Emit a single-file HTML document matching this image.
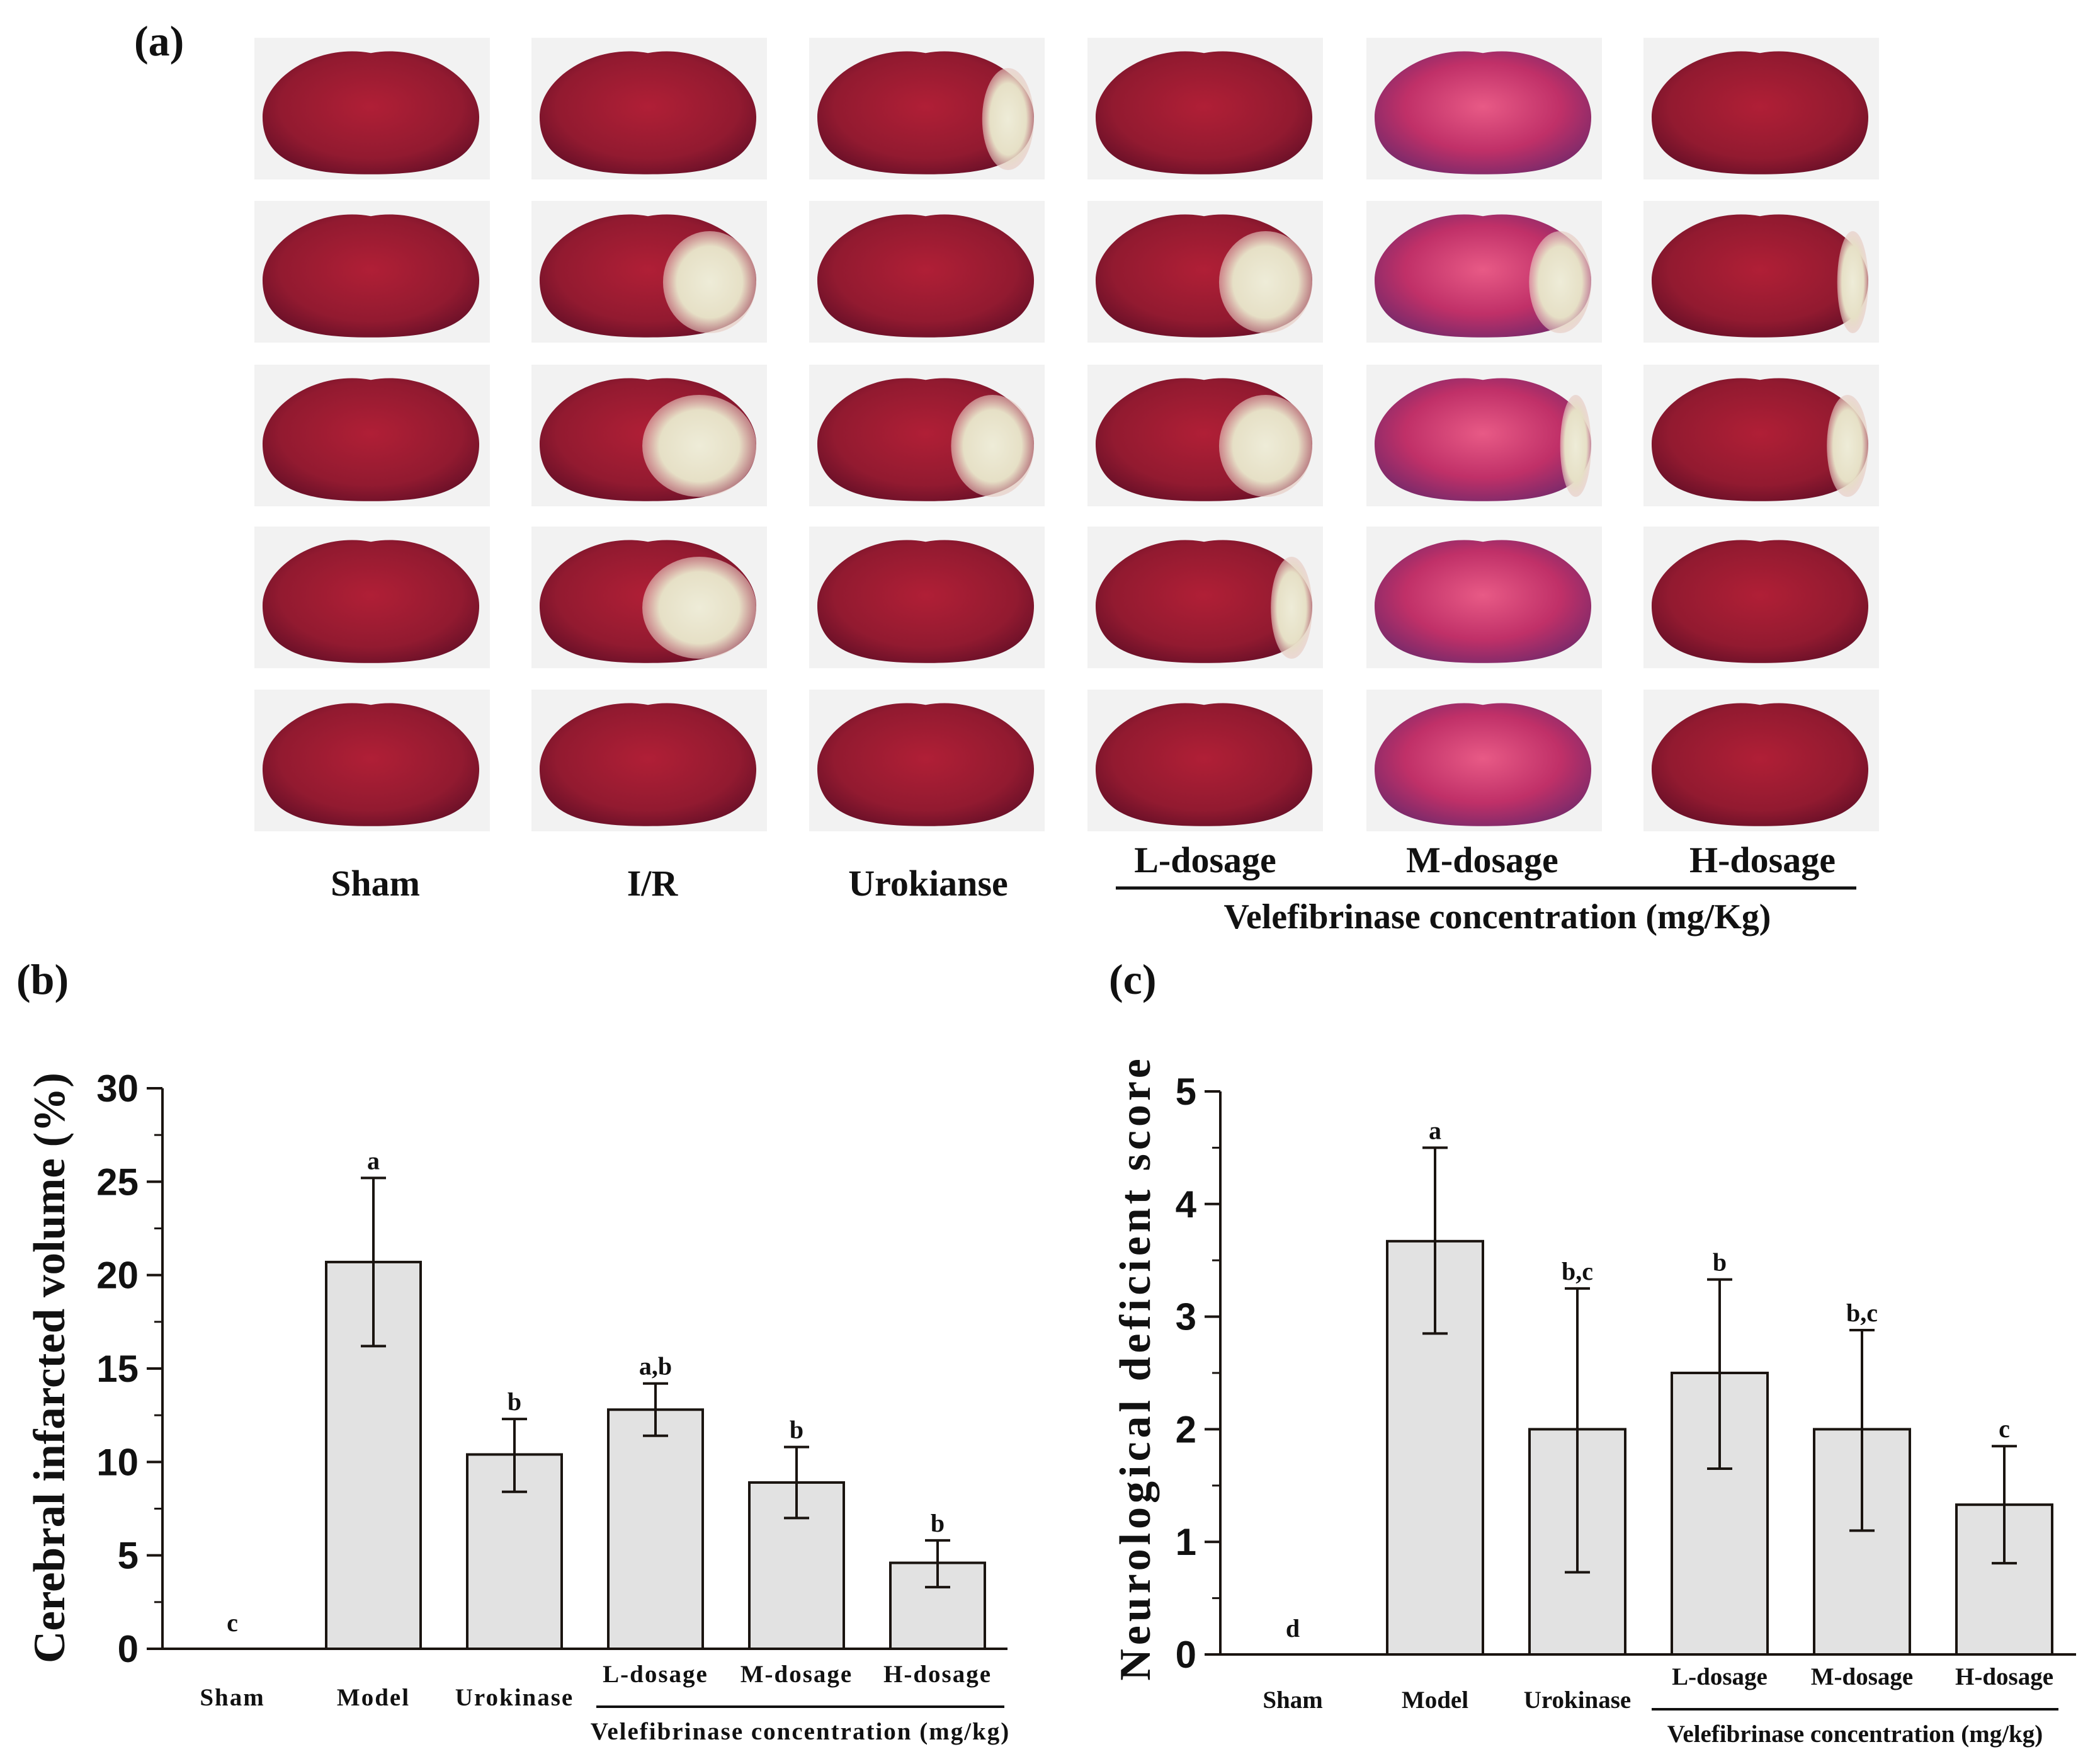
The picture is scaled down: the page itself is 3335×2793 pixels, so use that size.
<!DOCTYPE html>
<html><head><meta charset="utf-8"><style>
html,body{margin:0;padding:0;background:#fff;}
svg{display:block;}
text{font-family:"Liberation Serif",serif;font-weight:bold;fill:#111;}
.tick{font-family:"Liberation Sans",sans-serif;font-weight:bold;}
</style></head><body>
<svg id="fig" width="3335" height="2793" viewBox="0 0 3335 2793" xmlns="http://www.w3.org/2000/svg">
<defs>
<radialGradient id="gRed" cx="50%" cy="45%" r="60%"><stop offset="0" stop-color="#b01f36"/><stop offset="0.7" stop-color="#921a30"/><stop offset="1" stop-color="#6a1028"/></radialGradient>
<radialGradient id="gPink" cx="50%" cy="45%" r="60%"><stop offset="0" stop-color="#e85a86"/><stop offset="0.6" stop-color="#c03068"/><stop offset="1" stop-color="#7a2a6a"/></radialGradient>
<radialGradient id="gPale" cx="50%" cy="50%" r="50%"><stop offset="0" stop-color="#eeecd8"/><stop offset="0.7" stop-color="#e6e0c6"/><stop offset="1" stop-color="#e6c8c0" stop-opacity="0.6"/></radialGradient>
</defs>
<g id="panelA"></g>
<text x="213" y="88" font-size="68">(a)</text>
<g id="panelB"></g>
<g id="panelC"></g>
</svg>
<script>
const NS='http://www.w3.org/2000/svg';
function mk(parent,tag,attrs,txt){const e=document.createElementNS(NS,tag);for(const k in attrs)e.setAttribute(k,attrs[k]);if(txt!==undefined)e.textContent=txt;parent.appendChild(e);return e;}

// ---------- Panel A: brain photos ----------
const colLefts=[404,844,1285,1727,2170,2610];
const rowTops=[60,319,579,836,1095];
const infarct=[[0,0,0.25,0,0,0],[0,0.45,0,0.45,0.3,0.15],[0,0.55,0.4,0.45,0.15,0.2],[0,0.55,0,0.2,0,0],[0,0,0,0,0,0]];
const A=document.getElementById('panelA');
for(let r=0;r<rowTops.length;r++){for(let c=0;c<colLefts.length;c++){
  const x=colLefts[c],y=rowTops[r],w=374,h=225;
  const g=mk(A,'g',{});
  
  
  mk(g,'rect',{x:x,y:y,width:w,height:h,fill:'#f2f2f2'});
  const fill=c===4?'url(#gPink)':'url(#gRed)';
  const cx=x+w/2-2,cy=y+h/2+3,rx=w*0.46,ry=h*0.45;
  mk(g,'path',{d:`M${cx} ${cy-ry+10} C${cx-rx*0.5} ${cy-ry-6} ${cx-rx} ${cy-ry*0.5} ${cx-rx} ${cy+ry*0.1} C${cx-rx} ${cy+ry*0.9} ${cx-rx*0.5} ${cy+ry} ${cx} ${cy+ry} C${cx+rx*0.5} ${cy+ry} ${cx+rx} ${cy+ry*0.9} ${cx+rx} ${cy+ry*0.1} C${cx+rx} ${cy-ry*0.5} ${cx+rx*0.5} ${cy-ry-6} ${cx} ${cy-ry+10}Z`,fill:fill});
  const f=infarct[r][c];
  if(f>0){mk(g,'ellipse',{cx:cx+rx-w*f*0.44,cy:cy+h*0.06,rx:w*f*0.44,ry:h*0.36,fill:'url(#gPale)'});}
}}
const aLabels=[['Sham',596,1422],['I/R',1036,1422],['Urokianse',1474,1422],['L-dosage',1914,1385],['M-dosage',2354,1385],['H-dosage',2799,1385]];
aLabels.forEach(l=>{const t=mk(document.getElementById('fig'),'text',{x:l[1],y:l[2],'font-size':58,'text-anchor':'middle'},l[0]);});
{const fig=document.getElementById('fig');
const ln=mk(fig,'line',{x1:1772,y1:1410,x2:2948,y2:1410,stroke:'#111','stroke-width':5});
const t=mk(fig,'text',{x:2378,y:1474,'font-size':56,'text-anchor':'middle'},'Velefibrinase concentration (mg/Kg)');}

// ---------- Panel B data ----------
const catsB=['Sham','Model','Urokinase','L-dosage','M-dosage','H-dosage'];
const valsB=[0,20.7,10.4,12.8,8.9,4.6];
const errHiB=[0,25.2,12.3,14.2,10.8,5.8];
const errLoB=[0,16.2,8.4,11.4,7.0,3.3];
const sigB=['c','a','b','a,b','b','b'];
const ticksB=[0,5,10,15,20,25,30];
// ---------- Panel C data ----------
const catsC=['Sham','Model','Urokinase','L-dosage','M-dosage','H-dosage'];
const valsC=[0,3.67,2.0,2.5,2.0,1.33];
const errHiC=[0,4.5,3.25,3.33,2.88,1.85];
const errLoC=[0,2.85,0.73,1.65,1.1,0.81];
const sigC=['d','a','b,c','b','b,c','c'];
const ticksC=[0,1,2,3,4,5];

function chart(o){
  const G=document.getElementById(o.id);
  const y=v=>o.y0-(v-o.min)/(o.max-o.min)*(o.y0-o.y1);
  const x=i=>o.c0+i*o.step;
  let t=mk(G,'text',{x:o.plx,y:1578,'font-size':68},o.pl);
  
  o.vals.forEach((v,i)=>{
    if(v>0){const b=mk(G,'rect',{x:x(i)-o.bw/2,y:y(v),width:o.bw,height:y(0)-y(v),fill:'#e2e2e2',stroke:'#1a1410','stroke-width':4});
    
    const e=mk(G,'path',{d:`M${x(i)} ${y(o.hi[i])}V${y(o.lo[i])}M${x(i)-20} ${y(o.hi[i])}h40M${x(i)-20} ${y(o.lo[i])}h40`,stroke:'#1a1410','stroke-width':4,fill:'none'});
    }
    const top=v>0?y(o.hi[i])-14:y(0)-28;
    const s=mk(G,'text',{x:x(i),y:top,'font-size':40,'text-anchor':'middle'},o.sig[i]);
    
  });
  const ax=mk(G,'path',{d:`M${o.ax} ${o.y1}V${y(0)}H${o.axEnd}`,stroke:'#1a1410','stroke-width':4,fill:'none'});
  
  o.ticks.forEach((v,k)=>{
    mk(G,'line',{x1:o.ax-25,y1:y(v),x2:o.ax,y2:y(v),stroke:'#1a1410','stroke-width':4});
    if(k<o.ticks.length-1){const m=(v+o.ticks[k+1])/2;mk(G,'line',{x1:o.ax-13,y1:y(m),x2:o.ax,y2:y(m),stroke:'#1a1410','stroke-width':3});}
    const tl=mk(G,'text',{x:o.ax-38,y:y(v)+21,'font-size':60,'text-anchor':'end',class:'tick'},String(v));
    
  });
  o.cats.forEach((c,i)=>{
    const low=i<3;
    const l=mk(G,'text',{x:x(i),y:low?o.xly:o.xly-37,'font-size':39,'text-anchor':'middle','letter-spacing':o.ls},c);
    
  });
  const bl=mk(G,'line',{x1:o.brx1,y1:o.xly+2,x2:o.brx2,y2:o.xly+2,stroke:'#111','stroke-width':4});
  
  const vt=mk(G,'text',{x:(o.brx1+o.brx2)/2,y:o.xly+54,'font-size':39,'text-anchor':'middle','letter-spacing':o.ls},'Velefibrinase concentration (mg/kg)');
  
  const yt=mk(G,'text',{x:0,y:0,'font-size':o.ytf,'text-anchor':'middle','letter-spacing':o.ytls,transform:`translate(${o.ytx},2172) rotate(-90)`},o.ytitle);
  
}
chart({id:'panelB',pl:'(b)',plx:26,cats:catsB,vals:valsB,hi:errHiB,lo:errLoB,sig:sigB,ticks:ticksB,min:0,max:30,
  y0:2618,y1:1728,c0:369,step:224,bw:150,ax:258,axEnd:1600,xly:2708,brx1:947,brx2:1595,ls:2,ytx:102,ytf:71,ytls:0,ytitle:'Cerebral infarcted volume (%)'});
chart({id:'panelC',pl:'(c)',plx:1761,cats:catsC,vals:valsC,hi:errHiC,lo:errLoC,sig:sigC,ticks:ticksC,min:0,max:5,
  y0:2627,y1:1733,c0:2053,step:226,bw:152,ax:1938,axEnd:3297,xly:2712,brx1:2623,brx2:3269,ls:0,ytx:1826,ytf:70,ytls:6,ytitle:'Neurological deficient score'});
</script>
</body></html>
